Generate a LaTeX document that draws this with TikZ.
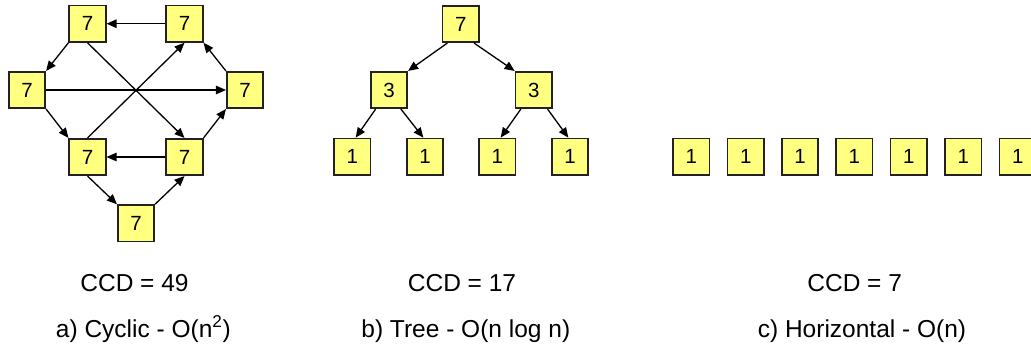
\documentclass[tikz,border=0pt]{standalone}
\usepackage{fontspec}
\setmainfont{Liberation Sans}
\usetikzlibrary{arrows.meta}
\definecolor{boxfill}{HTML}{FFFF80}
\definecolor{boxline}{HTML}{222222}
\tikzset{
  cbox/.style={draw=boxline, fill=boxfill, line width=1.6pt, minimum width=36.5pt, minimum height=36.5pt, inner sep=0pt, font=\fontsize{20.5}{24}\selectfont},
  conn/.style={line width=1.3pt, draw=black, -{Triangle[length=10pt,width=8.5pt]}},
  lbl/.style={anchor=base, inner sep=0pt, font=\fontsize{24.5}{29}\selectfont}
}
\begin{document}
\begin{tikzpicture}[x=1pt,y=-1pt]
\useasboundingbox (0,0) rectangle (1031,348);
\clip (0,0) rectangle (1031,348);
% cyclic
\node[cbox] (tl) at (87.5,23.7) {7};
\node[cbox] (tr) at (184.5,23.7) {7};
\node[cbox] (l) at (27,90) {7};
\node[cbox] (r) at (245,90) {7};
\node[cbox] (bl) at (87.5,157) {7};
\node[cbox] (br) at (184.5,157) {7};
\node[cbox] (b) at (136,223.3) {7};
\draw[conn] (tr) -- (tl);
\draw[conn] (tl.south west) -- (l.north east);
\draw[conn] (l) -- (r);
\draw[conn] (tl.south) -- (br.north);
\draw[conn] (bl.north) -- (tr.south);
\draw[conn] (r.north west) -- (tr.south east);
\draw[conn] (l.south east) -- (bl.north west);
\draw[conn] (br) -- (bl);
\draw[conn] (bl.south) -- (b.north west);
\draw[conn] (b.north east) -- (br.south);
\draw[conn] (br.north east) -- (r.south west);
% tree
\node[cbox] (root) at (460.7,24) {7};
\node[cbox] (m1) at (389,90) {3};
\node[cbox] (m2) at (533.7,90) {3};
\node[cbox] (f1) at (352.3,156.7) {1};
\node[cbox] (f2) at (425,156.7) {1};
\node[cbox] (f3) at (497.3,156.7) {1};
\node[cbox] (f4) at (570,156.7) {1};
\draw[conn] (root.-125) -- (m1.north east);
\draw[conn] (root.-55) -- (m2.north west);
\draw[conn] (m1.-125) -- (f1.80);
\draw[conn] (m1.-58) -- (f2.95);
\draw[conn] (m2.-124) -- (f3.80);
\draw[conn] (m2.-54) -- (f4.95);
% horizontal
\foreach \i/\x in {1/691.3,2/745.8,3/800,4/854.3,5/908.8,6/963.3,7/1017.7}
  \node[cbox] (h\i) at (\x,156.7) {1};
% labels
\node[lbl] (c1) at (134.5,291.7) {CCD = 49};
\node[lbl] (t1) at (143.3,337) {a) Cyclic - O(n\textsuperscript{2})};
\node[lbl] (c2) at (462,291.7) {CCD = 17};
\node[lbl] (t2) at (465.8,337) {b) Tree - O(n log n)};
\node[lbl] (c3) at (854.7,291.7) {CCD = 7};
\node[lbl] (t3) at (862,337) {c) Horizontal - O(n)};
\end{tikzpicture}
\end{document}
